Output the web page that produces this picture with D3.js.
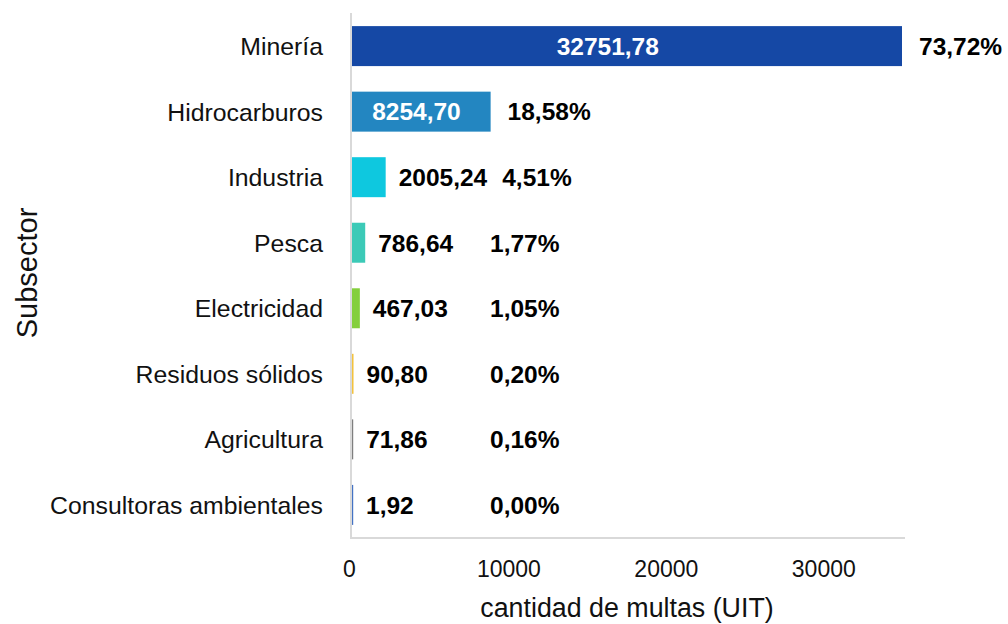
<!DOCTYPE html>
<html>
<head>
<meta charset="utf-8">
<script src="https://cdn.jsdelivr.net/npm/d3@7"></script>
<style>
  html, body { margin: 0; padding: 0; background: #fff; }
  svg text { font-family: "Liberation Sans", Arial, sans-serif; }
</style>
</head>
<body>
<svg id="chart" width="1008" height="624"></svg>
<script>
// Fines by subsector (UIT) and share of total
const subsectors = ["Minería", "Hidrocarburos", "Industria", "Pesca", "Electricidad",
                    "Residuos sólidos", "Agricultura", "Consultoras ambientales"];
const multas = [32751.78, 8254.70, 2005.24, 786.64, 467.03, 90.80, 71.86, 1.92];
const shares = [73.72, 18.58, 4.51, 1.77, 1.05, 0.20, 0.16, 0.00];
const axisTicks = [0, 10000, 20000, 30000];
const barColors = ["#1548a5", "#2386c1", "#0ec8df", "#3ccab7", "#84cf3c", "#f3c23c", "#7f7f7f", "#4472c4"];

const svg = d3.select("#chart");
const locale = d3.formatLocale({ decimal: ",", thousands: "", grouping: [3], currency: ["", ""] });
const fmt = locale.format(".2f");

const plot = { left: 351, right: 902, top: 13, bottom: 538 };

const y = d3.scaleBand()
  .domain(subsectors)
  .range([plot.top, plot.bottom])
  .paddingInner(0.39)
  .paddingOuter(0.2);

// Bars span the full plot width for the largest subsector
const xBar = d3.scaleLinear()
  .domain([0, d3.max(multas)])
  .range([plot.left + 1, plot.right]);

// Tick scale for the horizontal axis
const xAxisScale = d3.scaleLinear()
  .domain([0, 35000])
  .range([plot.left, plot.right]);

const rows = subsectors.map((s, i) => ({ s, v: multas[i], p: shares[i], c: barColors[i] }));

// Axis frame lines
svg.append("line")
  .attr("x1", plot.left).attr("x2", plot.left)
  .attr("y1", plot.top).attr("y2", plot.bottom)
  .attr("stroke", "#d9d9d9").attr("stroke-width", 2);
svg.append("line")
  .attr("x1", plot.left - 1).attr("x2", plot.right + 3)
  .attr("y1", plot.bottom).attr("y2", plot.bottom)
  .attr("stroke", "#d9d9d9").attr("stroke-width", 2);

// Bars
svg.append("g").selectAll("rect")
  .data(rows)
  .join("rect")
  .attr("x", xBar(0))
  .attr("y", d => y(d.s))
  .attr("width", d => Math.max(xBar(d.v) - xBar(0), 1.2))
  .attr("height", y.bandwidth())
  .attr("fill", d => d.c);

// Category labels
svg.append("g").selectAll("text")
  .data(rows)
  .join("text")
  .attr("x", 323)
  .attr("y", d => y(d.s) + y.bandwidth() / 2)
  .attr("dy", "0.36em")
  .attr("text-anchor", "end")
  .attr("font-size", 24.8)
  .attr("fill", "#111")
  .text(d => d.s);

// Value labels: inside wide bars (white), beside short bars (black)
const valueFont = 24.5;
const labels = svg.append("g");
rows.forEach(d => {
  const x0 = xBar(0), x1 = xBar(d.v);
  const cy = y(d.s) + y.bandwidth() / 2;
  const t = labels.append("text")
    .attr("y", cy)
    .attr("dy", "0.36em")
    .attr("font-size", valueFont)
    .attr("font-weight", "bold")
    .text(fmt(d.v));
  const w = t.node().getComputedTextLength();
  let pctX;
  if (x1 - x0 > w + 30) {
    const cx = x0 + (x1 - x0) * 0.465;
    t.attr("x", cx).attr("text-anchor", "middle").attr("fill", "#ffffff");
    pctX = x1 + 17;
  } else {
    const tx = Math.max(x1 + 13, 366);
    t.attr("x", tx).attr("text-anchor", "start").attr("fill", "#000");
    pctX = Math.max(tx + w + 15, 490);
  }
  labels.append("text")
    .attr("x", pctX)
    .attr("y", cy)
    .attr("dy", "0.36em")
    .attr("font-size", valueFont)
    .attr("font-weight", "bold")
    .attr("fill", "#000")
    .text(fmt(d.p) + "%");
});

// Horizontal axis tick labels
const xAxis = d3.axisBottom(xAxisScale)
  .tickValues(axisTicks)
  .tickSize(0)
  .tickPadding(0)
  .tickFormat(d3.format("d"));
const gx = svg.append("g")
  .attr("transform", `translate(0, ${plot.bottom})`)
  .call(xAxis);
gx.select(".domain").remove();
gx.selectAll("text")
  .attr("y", 31)
  .attr("dy", "0.36em")
  .attr("font-size", 23)
  .attr("font-family", "Liberation Sans, Arial, sans-serif")
  .attr("fill", "#111");
gx.selectAll("text").filter(d => d === 0).attr("dx", -2);

// Axis titles
svg.append("text")
  .attr("x", 627)
  .attr("y", 607)
  .attr("dy", "0.36em")
  .attr("text-anchor", "middle")
  .attr("font-size", 26.8)
  .attr("fill", "#111")
  .text("cantidad de multas (UIT)");

svg.append("text")
  .attr("transform", "translate(27, 273) rotate(-90)")
  .attr("dy", "0.36em")
  .attr("text-anchor", "middle")
  .attr("font-size", 29)
  .attr("fill", "#111")
  .text("Subsector");
</script>
</body>
</html>
